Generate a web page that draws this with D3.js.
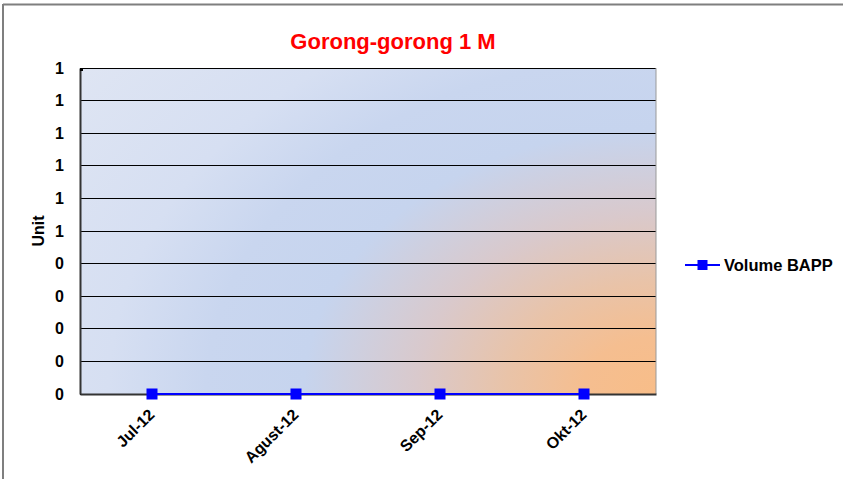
<!DOCTYPE html>
<html><head><meta charset="utf-8">
<script src="https://cdn.jsdelivr.net/npm/d3@7"></script>
<style>html,body{margin:0;padding:0;background:#fff;}svg{display:block;font-family:"Liberation Sans",Arial,sans-serif;}</style>
</head><body>
<svg id="c" width="843" height="479"></svg>
<script>
const categories = ["Jul-12", "Agust-12", "Sep-12", "Okt-12"];
const seriesName = "Volume BAPP";
const seriesValues = [0, 0, 0, 0];
const yTicks = [0, 0.1, 0.2, 0.3, 0.4, 0.5, 0.6, 0.7, 0.8, 0.9, 1.0];
const titleText = "Gorong-gorong 1 M";
const yTitle = "Unit";

const svg = d3.select("#c");
const m = {left: 80, top: 68, right: 843 - 656, bottom: 479 - 394};
const W = 843 - m.left - m.right, H = 479 - m.top - m.bottom;

// outer frame
svg.append("line").attr("x1", 3).attr("x2", 843).attr("y1", 4.5).attr("y2", 4.5).attr("stroke", "#7f7f7f").attr("stroke-width", 2);
svg.append("line").attr("x1", 3).attr("x2", 3).attr("y1", 4).attr("y2", 479).attr("stroke", "#7f7f7f").attr("stroke-width", 2);

const defs = svg.append("defs");
const rg = defs.append("radialGradient").attr("id", "bg").attr("gradientUnits", "userSpaceOnUse")
  .attr("cx", 656).attr("cy", 394).attr("r", 750).attr("fx", 656).attr("fy", 394)
  .attr("gradientTransform", "translate(0,98.5) scale(1,0.75)");
[[0, "#f8bd88"], [0.1, "#f5be90"], [0.2, "#e9c3a8"], [0.32, "#d9c9cc"], [0.47, "#c6d4ee"], [0.6, "#c9d6ef"], [0.73, "#d6dff2"], [1, "#e0e6f3"]]
  .forEach(([o, c]) => rg.append("stop").attr("offset", o).attr("stop-color", c));

svg.append("rect").attr("x", m.left).attr("y", m.top).attr("width", W).attr("height", H).attr("fill", "url(#bg)");
const g = svg.append("g").attr("transform", `translate(${m.left},${m.top})`);

const x = d3.scaleBand().domain(categories).range([0, W]);
const y = d3.scaleLinear().domain([0, 1]).range([H, 0]);

// gridlines
g.append("g").selectAll("line").data(yTicks).join("line")
  .attr("x1", 0).attr("x2", W).attr("y1", d => y(d)).attr("y2", d => y(d))
  .attr("stroke", "#000").attr("stroke-width", 1).attr("shape-rendering", "crispEdges");
g.append("line").attr("x1", W).attr("x2", W).attr("y1", 0).attr("y2", H).attr("stroke", "#999").attr("stroke-width", 1);

// y axis
const ya = g.append("g").call(d3.axisLeft(y).tickValues(yTicks).tickFormat(d3.format(".0f")).tickSize(0).tickPadding(16));
ya.select(".domain").attr("stroke", "#333").attr("stroke-width", 2);
ya.selectAll("text").attr("font-size", 16).attr("font-weight", "bold").attr("fill", "#000").attr("font-family", "Liberation Sans, Arial, sans-serif");

// x axis
const xa = g.append("g").attr("transform", `translate(0,${H})`).call(d3.axisBottom(x).tickSize(0).tickPadding(8));
xa.select(".domain").attr("stroke", "#333").attr("stroke-width", 2);
xa.selectAll("text").attr("font-size", 16).attr("font-weight", "bold").attr("fill", "#000")
  .attr("font-family", "Liberation Sans, Arial, sans-serif")
  .attr("text-anchor", "end").attr("dy", "0.35em")
  .attr("transform", "translate(-6,12) rotate(-45)");

g.append("rect").attr("x", 0).attr("y", 0).attr("width", 3).attr("height", 3).attr("fill", "#000");

// series line
const cx = d => x(d) + x.bandwidth() / 2;
const data = categories.map((c, i) => ({c, v: seriesValues[i]}));
g.append("path").datum(data)
  .attr("d", d3.line().x(d => cx(d.c)).y(d => y(d.v)))
  .attr("fill", "none").attr("stroke", "#0000ff").attr("stroke-width", 2);
g.selectAll(".pt").data(data).join("rect").attr("class", "pt")
  .attr("x", d => cx(d.c) - 5.5).attr("y", d => y(d.v) - 5.5).attr("width", 11).attr("height", 11).attr("fill", "#0000ff");

// title
svg.append("text").attr("x", 393).attr("y", 49).attr("text-anchor", "middle")
  .attr("font-size", 22).attr("font-weight", "bold").attr("fill", "#ff0000").text(titleText);

// y title
svg.append("text").attr("transform", "translate(44,231) rotate(-90)").attr("text-anchor", "middle")
  .attr("font-size", 16).attr("font-weight", "bold").attr("fill", "#000").text(yTitle);

// legend
const lg = svg.append("g").attr("transform", "translate(685,265)");
lg.append("line").attr("x1", 0).attr("x2", 35).attr("y1", 0).attr("y2", 0).attr("stroke", "#0000ff").attr("stroke-width", 2);
lg.append("rect").attr("x", 12.5).attr("y", -5).attr("width", 10).attr("height", 10).attr("fill", "#0000ff");
lg.append("text").attr("x", 39).attr("y", 5.5).attr("font-size", 16.5).attr("font-weight", "bold").attr("fill", "#000").text(seriesName);
</script>
</body></html>
